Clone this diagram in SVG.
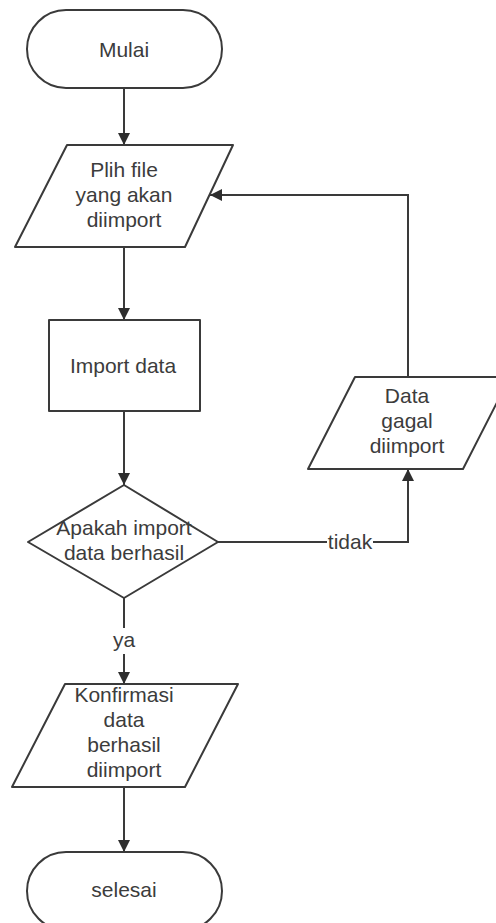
<svg xmlns="http://www.w3.org/2000/svg" width="496" height="923" viewBox="0 0 496 923">
  <defs>
    <marker id="arrow" markerUnits="userSpaceOnUse" markerWidth="13" markerHeight="12" refX="12" refY="6" orient="auto">
      <path d="M0,0 L12,6 L0,12 z" fill="#2e2e2e"/>
    </marker>
    <style>
      .shape { fill: #ffffff; stroke: #3a3a3a; stroke-width: 2; stroke-linejoin: round; }
      .edge { fill: none; stroke: #3a3a3a; stroke-width: 2; marker-end: url(#arrow); }
      .plain { fill: none; stroke: #3a3a3a; stroke-width: 2; }
      text { font-family: "Liberation Sans", Arial, sans-serif; font-size: 21px; fill: #3c3c3c; text-anchor: middle; }
      .bg { fill: #ffffff; }
    </style>
  </defs>
  <rect width="496" height="923" fill="#ffffff"/>

  <!-- connectors -->
  <g id="connectors">
    <line class="edge" x1="124" y1="88" x2="124" y2="145"/>
    <line class="edge" x1="124" y1="247" x2="124" y2="320"/>
    <line class="edge" x1="124" y1="411" x2="124" y2="485"/>
    <line class="edge" x1="124" y1="598" x2="124" y2="684"/>
    <line class="edge" x1="124" y1="787" x2="124" y2="852"/>
    <polyline class="edge" points="218,542 408,542 408,469"/>
    <polyline class="edge" points="408,377 408,195 210,195"/>
    <rect class="bg" x="110" y="628" width="28" height="26"/>
    <text x="124" y="647">ya</text>
    <rect class="bg" x="327" y="532" width="46" height="20"/>
    <text x="350" y="549">tidak</text>
  </g>

  <g id="mulai">
    <rect class="shape" x="27" y="10" width="195" height="78" rx="39" ry="39"/>
    <text x="124" y="57">Mulai</text>
  </g>

  <g id="pilih-file">
    <polygon class="shape" points="67,145 233,145 185,247 15,247"/>
    <text x="124" y="177">Plih file</text>
    <text x="124" y="202">yang akan</text>
    <text x="124" y="227">diimport</text>
  </g>

  <g id="import-data">
    <rect class="shape" x="49" y="320" width="151" height="91"/>
    <text x="123" y="373">Import data</text>
  </g>

  <g id="cek-import">
    <polygon class="shape" points="124,485 218,542 124,598 28,542"/>
    <text x="124" y="535">Apakah import</text>
    <text x="124" y="560">data berhasil</text>
  </g>

  <g id="gagal">
    <polygon class="shape" points="355,377 510,377 463,469 308,469"/>
    <text x="407" y="403">Data</text>
    <text x="407" y="428">gagal</text>
    <text x="407" y="453">diimport</text>
  </g>

  <g id="konfirmasi">
    <polygon class="shape" points="65,684 238,684 185,787 12,787"/>
    <text x="124" y="702">Konfirmasi</text>
    <text x="124" y="727">data</text>
    <text x="124" y="752">berhasil</text>
    <text x="124" y="777">diimport</text>
  </g>

  <g id="selesai">
    <rect class="shape" x="27" y="852" width="195" height="78" rx="39" ry="39"/>
    <text x="124" y="897">selesai</text>
  </g>
</svg>
